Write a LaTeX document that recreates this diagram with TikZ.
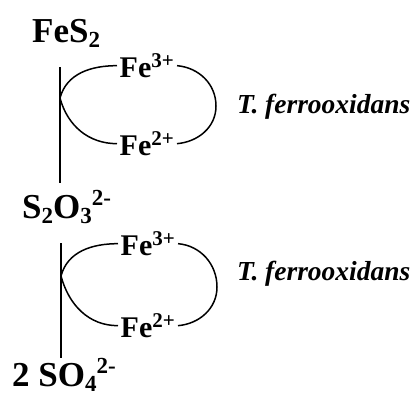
\documentclass[tikz,border=0pt]{standalone}
\usepackage{fontspec}
\setmainfont{Liberation Serif}
\newcommand\lowsub[1]{\raisebox{-0.15em}{\fontsize{23}{25}\selectfont #1}}
\newcommand\highsup[1]{\raisebox{0.36em}{\fontsize{23}{25}\selectfont #1}}
\begin{document}
\begin{tikzpicture}[x=1pt,y=-1pt,
  spec/.style={font=\bfseries\fontsize{35}{38}\selectfont,inner sep=0pt,anchor=base west},
  ion/.style={font=\bfseries\fontsize{30}{34}\selectfont,inner sep=2.5pt,anchor=base west},
  bug/.style={font=\bfseries\itshape\fontsize{27.5}{30}\selectfont,inner sep=0pt,anchor=base west},
  cyc/.style={line width=1.5pt}]
  \useasboundingbox (0,0) rectangle (414,396);
  % sulfur species
  \node[spec] (fes2) at (32,42) {FeS\lowsub{2}};
  \node[spec] (s2o3) at (22,218) {S\lowsub{2}O\lowsub{3}\highsup{2-}};
  \node[spec] (so4) at (12,386) {2 SO\lowsub{4}\highsup{2-}};
  % first iron cycle
  \coordinate (top1) at (60,67);
  \coordinate (bot1) at (60,183);
  \coordinate (j1) at (60,98);
  \coordinate (r1) at (216,106);
  \node[ion] (fe3a) at (117,77) {Fe\textsuperscript{3+}};
  \node[ion] (fe2a) at (117,155) {Fe\textsuperscript{2+}};
  \node[bug] (tf1) at (237,113) {T. ferrooxidans};
  \draw[cyc] (top1) -- (bot1);
  \draw[cyc] (j1) to[out=75,in=180] (fe3a.west);
  \draw[cyc] (fe3a.east) to[out=-5,in=90] (r1) to[out=-90,in=5] (fe2a.east);
  \draw[cyc] (fe2a.west) to[out=180,in=-75] (j1);
  % second iron cycle
  \coordinate (top2) at (61,243);
  \coordinate (bot2) at (61,358);
  \coordinate (j2) at (61,276);
  \coordinate (r2) at (217,287);
  \node[ion] (fe3b) at (118,255) {Fe\textsuperscript{3+}};
  \node[ion] (fe2b) at (118,337) {Fe\textsuperscript{2+}};
  \node[bug] (tf2) at (237,280) {T. ferrooxidans};
  \draw[cyc] (top2) -- (bot2);
  \draw[cyc] (j2) to[out=75,in=180] (fe3b.west);
  \draw[cyc] (fe3b.east) to[out=-5,in=90] (r2) to[out=-90,in=5] (fe2b.east);
  \draw[cyc] (fe2b.west) to[out=180,in=-75] (j2);
\end{tikzpicture}
\end{document}
